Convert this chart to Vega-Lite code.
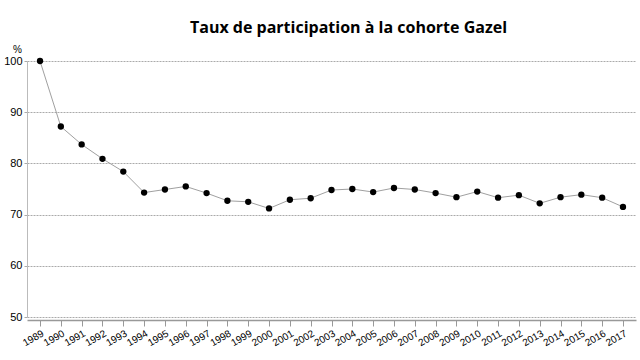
{
  "$schema": "https://vega.github.io/schema/vega-lite/v6.json",
  "autosize": "none",
  "width": 609,
  "height": 256,
  "padding": {"left": 27, "top": 61, "right": 4, "bottom": 43},
  "background": "white",
  "title": {
    "text": "Taux de participation à la cohorte Gazel",
    "font": "Open Sans",
    "fontSize": 16,
    "fontWeight": "bold",
    "color": "#000000",
    "anchor": "middle",
    "dx": 17,
    "offset": 8
  },
  "data": {
    "values": [
      {"annee": "1989", "taux": 100},
      {"annee": "1990", "taux": 87.2},
      {"annee": "1991", "taux": 83.7},
      {"annee": "1992", "taux": 80.9},
      {"annee": "1993", "taux": 78.4},
      {"annee": "1994", "taux": 74.3},
      {"annee": "1995", "taux": 74.9},
      {"annee": "1996", "taux": 75.5},
      {"annee": "1997", "taux": 74.2},
      {"annee": "1998", "taux": 72.7},
      {"annee": "1999", "taux": 72.5},
      {"annee": "2000", "taux": 71.2},
      {"annee": "2001", "taux": 72.9},
      {"annee": "2002", "taux": 73.2},
      {"annee": "2003", "taux": 74.8},
      {"annee": "2004", "taux": 75.0},
      {"annee": "2005", "taux": 74.4},
      {"annee": "2006", "taux": 75.2},
      {"annee": "2007", "taux": 74.9},
      {"annee": "2008", "taux": 74.2},
      {"annee": "2009", "taux": 73.4},
      {"annee": "2010", "taux": 74.5},
      {"annee": "2011", "taux": 73.3},
      {"annee": "2012", "taux": 73.8},
      {"annee": "2013", "taux": 72.2},
      {"annee": "2014", "taux": 73.4},
      {"annee": "2015", "taux": 73.9},
      {"annee": "2016", "taux": 73.3},
      {"annee": "2017", "taux": 71.5}
    ]
  },
  "encoding": {
    "x": {
      "field": "annee",
      "type": "ordinal",
      "scale": {"type": "point", "padding": 0.625},
      "axis": {
        "title": null,
        "offset": 3,
        "labelAngle": -30,
        "labelAlign": "right",
        "labelBaseline": "top",
        "labelFont": "Liberation Sans",
        "labelFontSize": 10,
        "labelColor": "#000000",
        "labelPadding": 2,
        "domainColor": "#999999",
        "domainWidth": 1.5,
        "tickColor": "#999999",
        "tickSize": 6,
        "grid": false
      }
    },
    "y": {
      "field": "taux",
      "type": "quantitative",
      "scale": {"domain": [50, 100], "nice": false, "zero": false},
      "axis": {
        "values": [50, 60, 70, 80, 90, 100],
        "title": "%",
        "titleAngle": 0,
        "titleFont": "Liberation Sans",
        "titleFontSize": 10,
        "titleFontWeight": "normal",
        "titleColor": "#000000",
        "titleAlign": "center",
        "titleBaseline": "bottom",
        "titleX": -10,
        "titleY": -7,
        "labelFont": "Liberation Sans",
        "labelFontSize": 11,
        "labelColor": "#000000",
        "labelPadding": 2,
        "tickSize": 3,
        "tickColor": "#aaaaaa",
        "domainColor": "#bbbbbb",
        "grid": true,
        "gridColor": "#aaaaaa",
        "gridDash": [2, 1],
        "gridWidth": 1
      }
    }
  },
  "layer": [
    {"mark": {"type": "line", "color": "#a0a0a0", "strokeWidth": 1}},
    {"mark": {"type": "point", "filled": true, "color": "#000000", "size": 40, "opacity": 1}}
  ],
  "config": {"view": {"stroke": null}}
}
